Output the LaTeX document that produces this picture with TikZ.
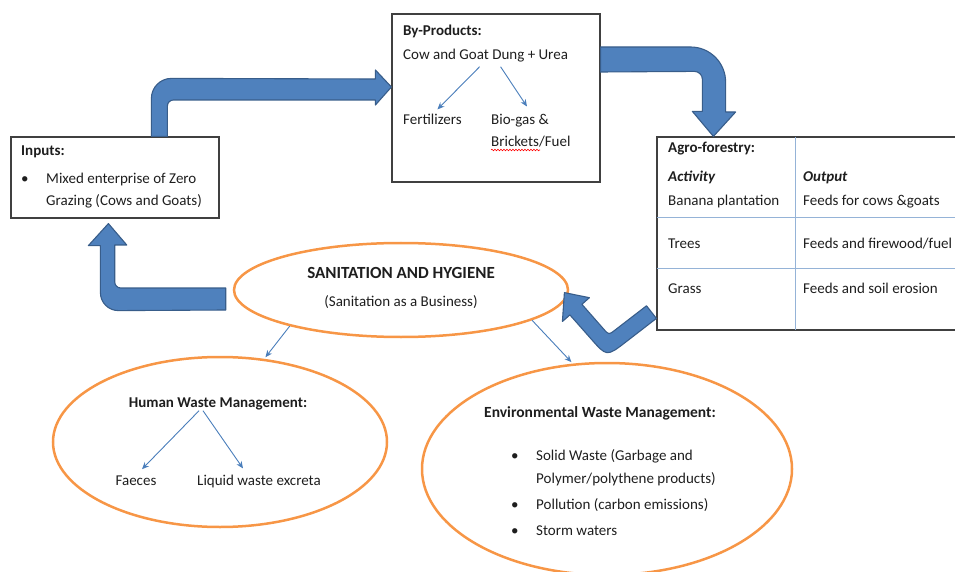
\documentclass[tikz,border=0pt]{standalone}
\usepackage{fontspec}
\setmainfont{Carlito}
\usepackage{tikz}
\usetikzlibrary{arrows.meta,positioning,calc,shapes.geometric,decorations.pathmorphing}
\definecolor{arrowblue}{RGB}{79,129,189}
\definecolor{arrowedge}{RGB}{56,93,138}
\definecolor{ovalorange}{RGB}{247,150,70}
\definecolor{linkblue}{RGB}{74,126,187}
\definecolor{gridblue}{RGB}{149,179,215}
\definecolor{inkgray}{RGB}{30,30,30}

\begin{document}
\begin{tikzpicture}[x=1pt,y=1pt,
    every node/.style={font=\fontsize{15}{18}\selectfont, text=inkgray},
    txt/.style={inner sep=1pt},
    box/.style={draw=black!75, line width=1.2pt, inner sep=0pt},
    oval/.style={ellipse, draw=ovalorange, line width=2.5pt, inner sep=0pt},
    blockarrow/.style={fill=arrowblue, draw=arrowedge, line width=1.1pt, line join=round},
    thinarrow/.style={draw=linkblue, line width=0.9pt, -{Stealth[length=7pt,width=6pt]}},
    gridline/.style={draw=gridblue, line width=1.2pt, shorten <=0.6pt, shorten >=0.6pt}]
    \useasboundingbox (0,0) rectangle (955,571);

    \node[box, minimum width=208, minimum height=168] (byprod) at (496,473) {};
    \node[box, minimum width=208, minimum height=81] (inputs) at (115,393.5) {};
    \node[box, minimum width=300, minimum height=193] (agro) at (807,337.5) {};
    \node[oval, minimum width=334, minimum height=94] (san) at (401,281) {};
    \node[oval, minimum width=334, minimum height=170] (human) at (220,129) {};
    \node[oval, minimum width=370, minimum height=212] (env) at (607,102) {};

    \node[txt, anchor=base west] (byhead) at (402,535) {\textbf{By-Products:}};
    \node[txt, anchor=base west] (dung) at (402,511) {Cow and Goat Dung + Urea};
    \node[txt, anchor=base west] (fert) at (402,446) {Fertilizers};
    \node[txt, anchor=base west] (biogas) at (490,446) {Bio-gas \&};
    \node[txt, anchor=base west] (brick) at (490,424) {Brickets/Fuel};
    \draw[red, line width=0.6pt, decorate, decoration={snake, amplitude=0.8pt, segment length=3pt}] ([xshift=1,yshift=-3]brick.base west) -- ++(49,0);
    \draw[thinarrow] ([xshift=-6,yshift=-3]dung.south) -- ([xshift=5,yshift=4]fert.north);
    \draw[thinarrow] ([xshift=15,yshift=-3]dung.south) -- ([xshift=7,yshift=7]biogas.north);

    \node[txt, anchor=base west] (inhead) at (20,415) {\textbf{Inputs:}};
    \node[txt, anchor=base west] (inbullet) at (20,387) {\textbullet};
    \node[txt, anchor=base west] (inline1) at (45,387) {Mixed enterprise of Zero};
    \node[txt, anchor=base west] (inline2) at (45,365) {Grazing (Cows and Goats)};

    \draw[gridline] ([xshift=139]agro.north west) -- ([xshift=139]agro.south west);
    \draw[gridline] ([yshift=113]agro.south west) -- ([yshift=113]agro.south east);
    \draw[gridline] ([yshift=62]agro.south west) -- ([yshift=62]agro.south east);
    \node[txt, anchor=base west] (agrohead) at (667,418) {\textbf{Agro-forestry:}};
    \node[txt, anchor=base west] (activity) at (667,389) {\textbf{\textit{Activity}}};
    \node[txt, anchor=base west] (output) at (802,389) {\textbf{\textit{Output}}};
    \node[txt, anchor=base west] (banana) at (667,365) {Banana plantation};
    \node[txt, anchor=base west] (bananaout) at (802,365) {Feeds for cows \&goats};
    \node[txt, anchor=base west] (trees) at (667,322) {Trees};
    \node[txt, anchor=base west] (treesout) at (802,322) {Feeds and firewood/fuel};
    \node[txt, anchor=base west] (grass) at (667,278) {Grass};
    \node[txt, anchor=base west] (grassout) at (802,278) {Feeds and soil erosion};

    \node[txt, anchor=base, font=\fontsize{17}{20}\selectfont] (santitle) at (401,292) {\textbf{SANITATION AND HYGIENE}};
    \node[txt, anchor=base] (sansub) at (401,265) {(Sanitation as a Business)};
    \draw[thinarrow, shorten >=2pt] (san.198) -- (human.62);
    \draw[thinarrow, shorten >=2pt] (san.-13) -- (env.108);

    \node[txt, anchor=base] (hwm) at (218,164) {\textbf{Human Waste Management:}};
    \node[txt, anchor=base] (faeces) at (136,86) {Faeces};
    \node[txt, anchor=base] (liquid) at (259,86) {Liquid waste excreta};
    \draw[thinarrow] ([xshift=-19]hwm.south) -- ([xshift=6,yshift=5]faeces.north);
    \draw[thinarrow] ([xshift=-15]hwm.south) -- ([xshift=-16,yshift=5]liquid.north);

    \node[txt, anchor=base, font=\fontsize{15.5}{18}\selectfont] (ewm) at (600,154) {\textbf{Environmental Waste Management:}};
    \node[txt, anchor=base west] (envb1) at (510,111) {\textbullet};
    \node[txt, anchor=base west] (env1) at (535,111) {Solid Waste (Garbage and};
    \node[txt, anchor=base west] (env1b) at (535,88) {Polymer/polythene products)};
    \node[txt, anchor=base west] (envb2) at (510,62) {\textbullet};
    \node[txt, anchor=base west] (env2) at (535,62) {Pollution (carbon emissions)};
    \node[txt, anchor=base west] (envb3) at (510,36) {\textbullet};
    \node[txt, anchor=base west] (env3) at (535,36) {Storm waters};

    \draw[blockarrow] ([xshift=141]inputs.north west) -- ++(0,38) arc[start angle=180,end angle=90,radius=20] -- ([xshift=-16,yshift=19]byprod.west) -- ++(0,9) -- ([yshift=11]byprod.west) -- ++(-16,-18) -- ++(0,5) -- ++(-202,0) arc[start angle=90,end angle=180,radius=6] -- ([xshift=157]inputs.north west) -- cycle;
    \draw[blockarrow] ([yshift=51]byprod.east) -- ++(90,0) arc[start angle=90,end angle=0,radius=35] -- ++(0,-30) -- ++(10,0) -- ([xshift=57]agro.north west) -- ++(-21,25) -- ++(10,0) -- ++(0,32) arc[start angle=0,end angle=90,radius=8] -- ([yshift=26]byprod.east) -- cycle;
    \draw[blockarrow] ([xshift=-7,yshift=2]san.west) -- ++(-105,0) arc[start angle=270,end angle=180,radius=6] -- ++(0,37) -- ++(12,0) -- ([xshift=98,yshift=-5]inputs.south west) -- ++(-20,-22) -- ++(12,0) -- ++(0,-47) arc[start angle=180,end angle=270,radius=18] -- ([xshift=-7,yshift=-20]san.west) -- cycle;
    \begin{scope}[shift={(agro.south west)}]
      \draw[blockarrow] (-9.9,24.8) -- (-41.3,0.6) .. controls (-47.6,-4.3) .. (-52.9,1.7) -- (-74.5,26.3) -- (-67,32.9) -- (-92,38) -- (-94,9.1) -- (-86.5,15.7) -- (-65.5,-8.1) .. controls (-49.7,-26.1) .. (-30.7,-11.5) -- (0,12.2) -- cycle;
    \end{scope}
\end{tikzpicture}
\end{document}
